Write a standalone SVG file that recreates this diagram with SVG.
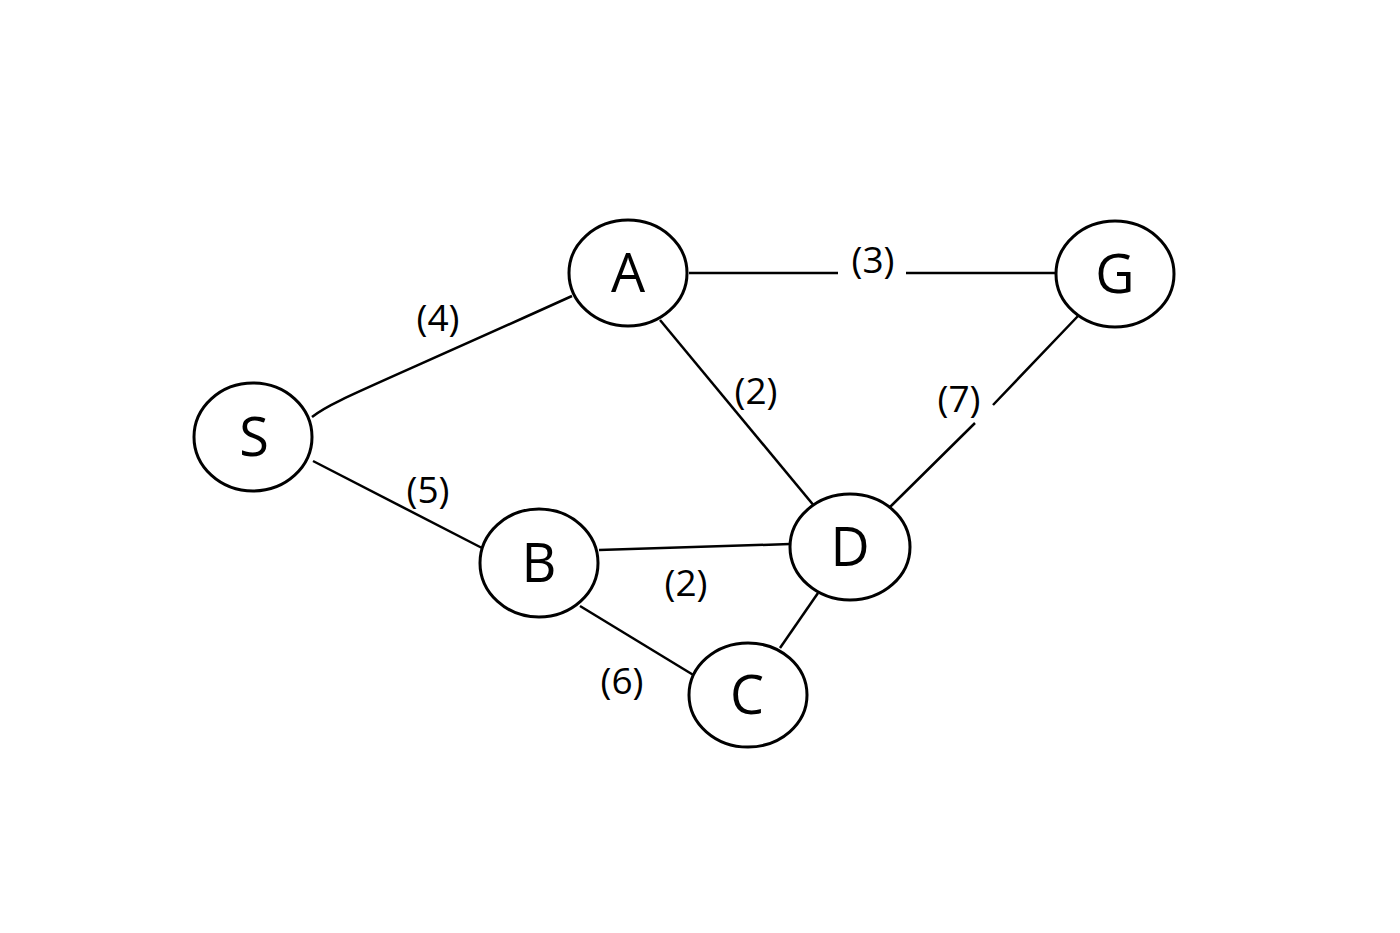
<svg xmlns="http://www.w3.org/2000/svg" width="1400" height="933" viewBox="0 0 1400 933">
<style>
.n{fill:#fff;stroke:#000;stroke-width:3}
.e{fill:none;stroke:#000;stroke-width:2.5}
.t{font-family:"Open Sans",sans-serif;font-size:54px;text-anchor:middle;fill:#000}
.w{font-family:"Open Sans",sans-serif;font-size:37px;text-anchor:middle;fill:#000}
</style>
<rect width="1400" height="933" fill="#fff"/>
<g id="connectors">
<path class="e" d="M312,417 C330,402 360,392 572,296"/>
<path class="e" d="M313,461 L482,548"/>
<path class="e" d="M689,273 L838,273 M906,273 L1056,273"/>
<path class="e" d="M660,320 L820,513"/>
<path class="e" d="M1078,316 L993,405 M975,423 L890,507"/>
<path class="e" d="M599,550 L790,544"/>
<path class="e" d="M580,606 L695,676"/>
<path class="e" d="M818,593 L780,648"/>
<text class="w" x="438" y="331">(4)</text>
<text class="w" x="428" y="503">(5)</text>
<text class="w" x="873" y="273">(3)</text>
<text class="w" x="756" y="404">(2)</text>
<text class="w" x="959" y="412">(7)</text>
<text class="w" x="686" y="596">(2)</text>
<text class="w" x="622" y="694">(6)</text>
</g>
<g id="S"><ellipse class="n" cx="253" cy="437" rx="59" ry="54"/><text class="t" x="254" y="456">S</text></g>
<g id="A"><ellipse class="n" cx="628" cy="273" rx="59" ry="53"/><text class="t" x="628" y="292">A</text></g>
<g id="G"><ellipse class="n" cx="1115" cy="274" rx="59" ry="53"/><text class="t" x="1115" y="293">G</text></g>
<g id="B"><ellipse class="n" cx="539" cy="563" rx="59" ry="54"/><text class="t" x="539" y="582">B</text></g>
<g id="D"><ellipse class="n" cx="850" cy="547" rx="60" ry="53"/><text class="t" x="850" y="566">D</text></g>
<g id="C"><ellipse class="n" cx="748" cy="695" rx="59" ry="52"/><text class="t" x="747" y="714">C</text></g>
</svg>
